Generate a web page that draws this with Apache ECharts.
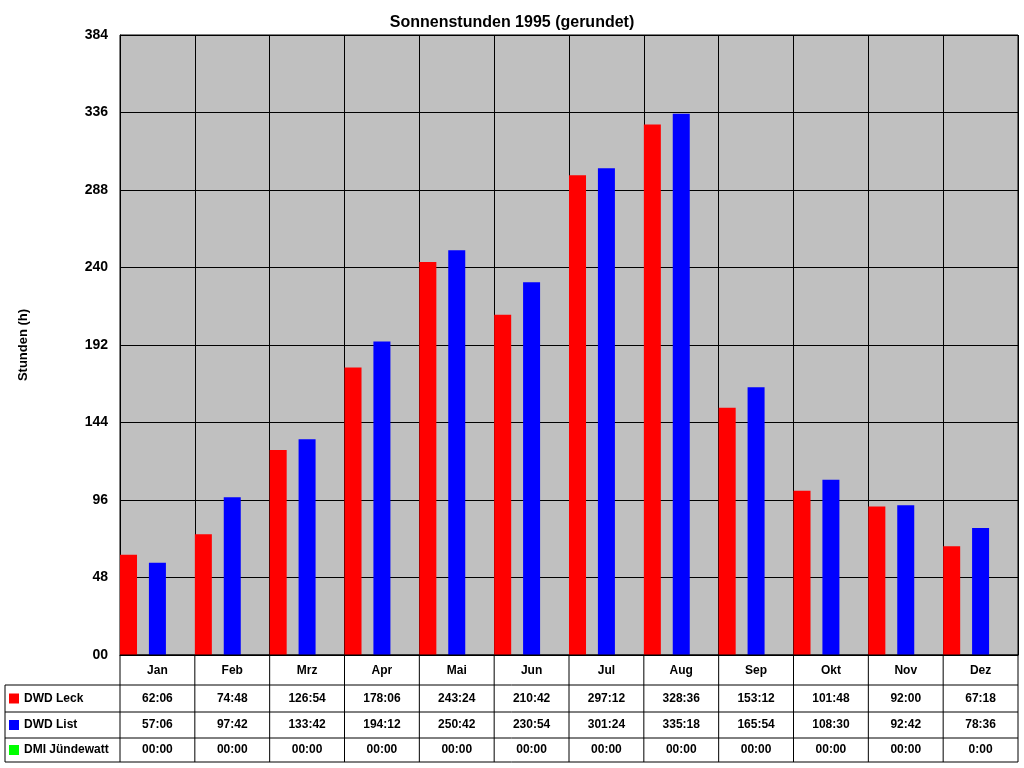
<!DOCTYPE html>
<html><head><meta charset="utf-8">
<script src="https://cdn.jsdelivr.net/npm/echarts@6/dist/echarts.min.js"></script>
<style>html,body{margin:0;padding:0;background:#fff}#c{width:1024px;height:768px}</style>
</head><body><div id="c"></div>
<script>
var months = ['Jan','Feb','Mrz','Apr','Mai','Jun','Jul','Aug','Sep','Okt','Nov','Dez'];
var leckText = ['62:06','74:48','126:54','178:06','243:24','210:42','297:12','328:36','153:12','101:48','92:00','67:18'];
var listText = ['57:06','97:42','133:42','194:12','250:42','230:54','301:24','335:18','165:54','108:30','92:42','78:36'];
var dmiText = ['00:00','00:00','00:00','00:00','00:00','00:00','00:00','00:00','00:00','00:00','00:00','0:00'];
var seriesNames = ['DWD Leck','DWD List','DMI Jündewatt'];
var seriesColors = ['#ff0000','#0000ff','#00ff00'];

function toHours(s){ var p = s.split(':'); return +p[0] + (+p[1])/60; }
var rowsText = [leckText, listText, dmiText];

// Geometrie
var L = 120, R = 1018, T = 35, B = 655;
var tabLeft = 5, rowY = [655, 685, 712, 738, 762];
var colW = (R - L) / 12;

var g = [];
function line(x1,y1,x2,y2){ g.push({type:'line',shape:{x1:x1,y1:y1,x2:x2,y2:y2},style:{stroke:'#000',lineWidth:1},z:10}); }
// Tabelle
for (var r = 1; r < rowY.length; r++) line(tabLeft, rowY[r], R, rowY[r]);
line(L, rowY[0], R, rowY[0]);
line(tabLeft, rowY[1], tabLeft, rowY[4]);
for (var c = 0; c <= 12; c++) line(L + c*colW, rowY[0], L + c*colW, rowY[4]);
for (var r = 0; r < 3; r++) {
  var cy = (rowY[r+1] + rowY[r+2]) / 2;
  g.push({type:'rect',shape:{x:9,y:cy-5,width:10,height:10},style:{fill:seriesColors[r]},z:10});
  g.push({type:'text',x:24,y:cy,style:{text:seriesNames[r],font:'bold 12px Arial',fill:'#000',textVerticalAlign:'middle'},z:10});
  for (var c = 0; c < 12; c++) {
    g.push({type:'text',x:L + (c+0.5)*colW,y:cy,style:{text:rowsText[r][c],font:'bold 12px Arial',fill:'#000',textAlign:'center',textVerticalAlign:'middle'},z:10});
  }
}

var chart = echarts.init(document.getElementById('c'));
chart.setOption({
  animation:false,
  title:{text:'Sonnenstunden 1995 (gerundet)',left:'center',top:10,textStyle:{fontFamily:'Arial',fontWeight:'bold',fontSize:16,color:'#000'}},
  grid:{left:L,right:1024-R,top:T,bottom:768-B,show:true,backgroundColor:'#c0c0c0',borderColor:'#000',borderWidth:1},
  xAxis:{type:'category',data:months,axisTick:{show:false},axisLine:{lineStyle:{color:'#000'}},
    axisLabel:{fontFamily:'Arial',fontWeight:'bold',fontSize:12,color:'#000',margin:10},
    splitLine:{show:true,lineStyle:{color:'#000',width:1}}},
  yAxis:{type:'value',min:0,max:384,interval:48,name:'Stunden (h)',nameLocation:'middle',nameGap:90,
    nameTextStyle:{fontFamily:'Arial',fontWeight:'bold',fontSize:13,color:'#000'},
    axisLine:{show:true,lineStyle:{color:'#000'}},axisTick:{show:true,length:5,inside:true},
    axisLabel:{fontFamily:'Arial',fontWeight:'bold',fontSize:14,color:'#000',margin:12,
      formatter:function(v){ return v < 10 ? '00' : String(v); }},
    splitLine:{lineStyle:{color:'#000',width:1}}},
  series: rowsText.map(function(arr, i){
    return {name:seriesNames[i],type:'bar',data:arr.map(toHours),barWidth:17,barGap:'70%',barCategoryGap:0,
      itemStyle:{color:seriesColors[i]}};
  }),
  graphic:g
});
</script></body></html>
